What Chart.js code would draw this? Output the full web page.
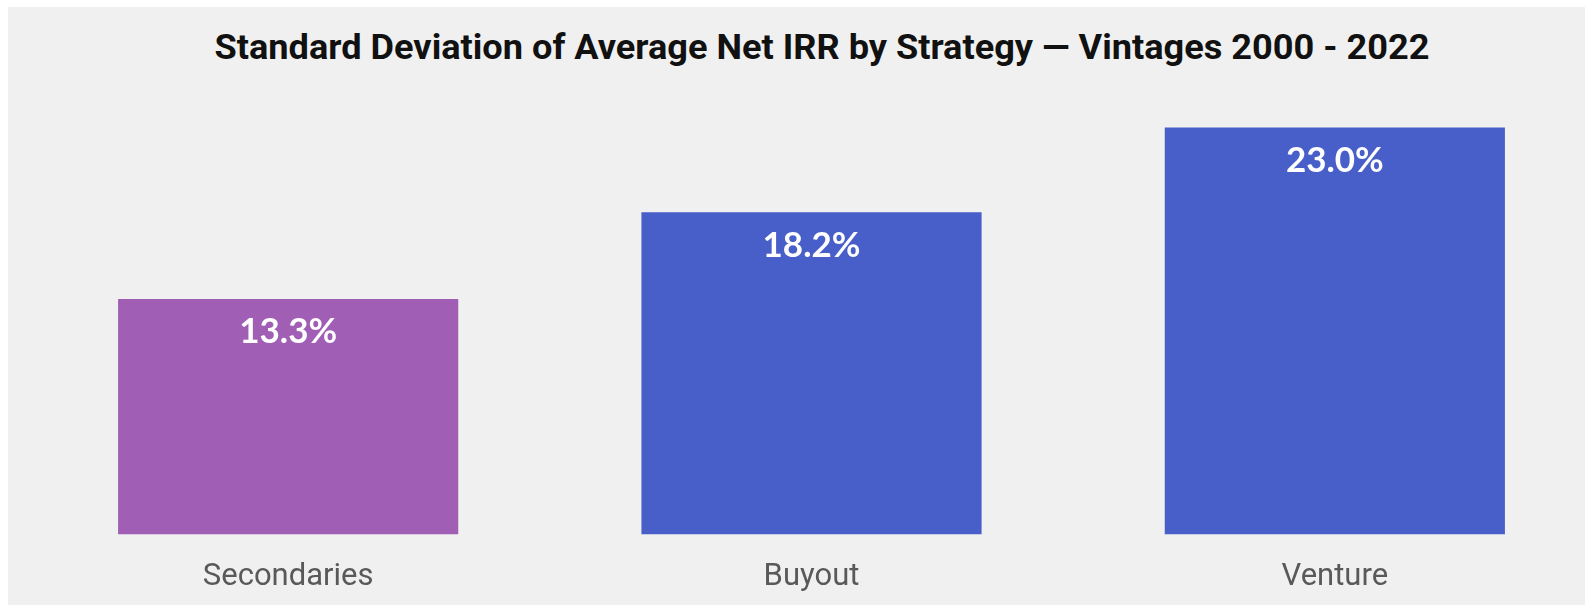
<!DOCTYPE html>
<html>
<head>
<meta charset="utf-8">
<script src="https://cdn.jsdelivr.net/npm/chart.js@4/dist/chart.umd.min.js"></script>
<style>
  html, body { margin: 0; padding: 0; background: #fff; overflow: hidden; width: 1585px; height: 606px; }
  #bg { position: absolute; left: 8px; top: 7px; right: 0; bottom: 1px; background: #f0f0f0; }
  #title {
    position: absolute; left: 822px; top: 27px; white-space: nowrap;
    font: bold 35px Roboto, "Liberation Sans", sans-serif; color: #111;
    transform-origin: 0 0;
  }
  #wrap { position: absolute; left: 0; top: 0; width: 1600px; height: 606px; }
</style>
</head>
<body>
<div id="bg"></div>
<div id="title">Standard Deviation of Average Net IRR by Strategy — Vintages 2000 - 2022</div>
<div id="wrap"><canvas id="chart"></canvas></div>
<script>
const categories = ['Secondaries', 'Buyout', 'Venture']
const stdDev = [13.3, 18.2, 23.0]
const barColors = ['#a05eb5', '#485ec8', '#485ec8']

// condensed look for the title: squeeze it to the reference width, centred
const title = document.querySelector('#title')
const tw = title.getBoundingClientRect().width
const sx = 1215 / tw
title.style.transform = `translateX(${-1215 / 2}px) scaleX(${sx})`

// white value labels inside the top of each bar
const valueLabels = {
  id: 'valueLabels',
  afterDatasetsDraw(chart) {
    const ctx = chart.ctx
    const meta = chart.getDatasetMeta(0)
    ctx.save()
    ctx.font = 'bold 35px Lato'
    ctx.fillStyle = '#ffffff'
    ctx.textAlign = 'center'
    ctx.textBaseline = 'middle'
    meta.data.forEach((bar, i) => {
      ctx.fillText(stdDev[i].toFixed(1) + '%', bar.x, bar.y + 33)
    })
    ctx.restore()
  }
}

new Chart(document.querySelector('#chart').getContext('2d'), {
  type: 'bar',
  data: {
    labels: categories,
    datasets: [{
      data: stdDev,
      backgroundColor: barColors,
      borderWidth: 0,
      barPercentage: 0.65,
      categoryPercentage: 1
    }]
  },
  options: {
    responsive: true,
    maintainAspectRatio: false,
    animation: false,
    layout: { padding: { left: 26.5, right: 3.5, top: 92, bottom: 0 } },
    plugins: { legend: { display: false }, tooltip: { enabled: false } },
    scales: {
      x: {
        grid: { display: false, drawTicks: false },
        border: { display: false },
        ticks: { font: { family: 'Roboto', size: 31 }, color: '#595959', padding: 24 },
        afterFit(scale) { scale.height = 71.5 }
      },
      y: { display: false, min: 0, max: 25 }
    }
  },
  plugins: [valueLabels]
})
</script>
</body>
</html>
